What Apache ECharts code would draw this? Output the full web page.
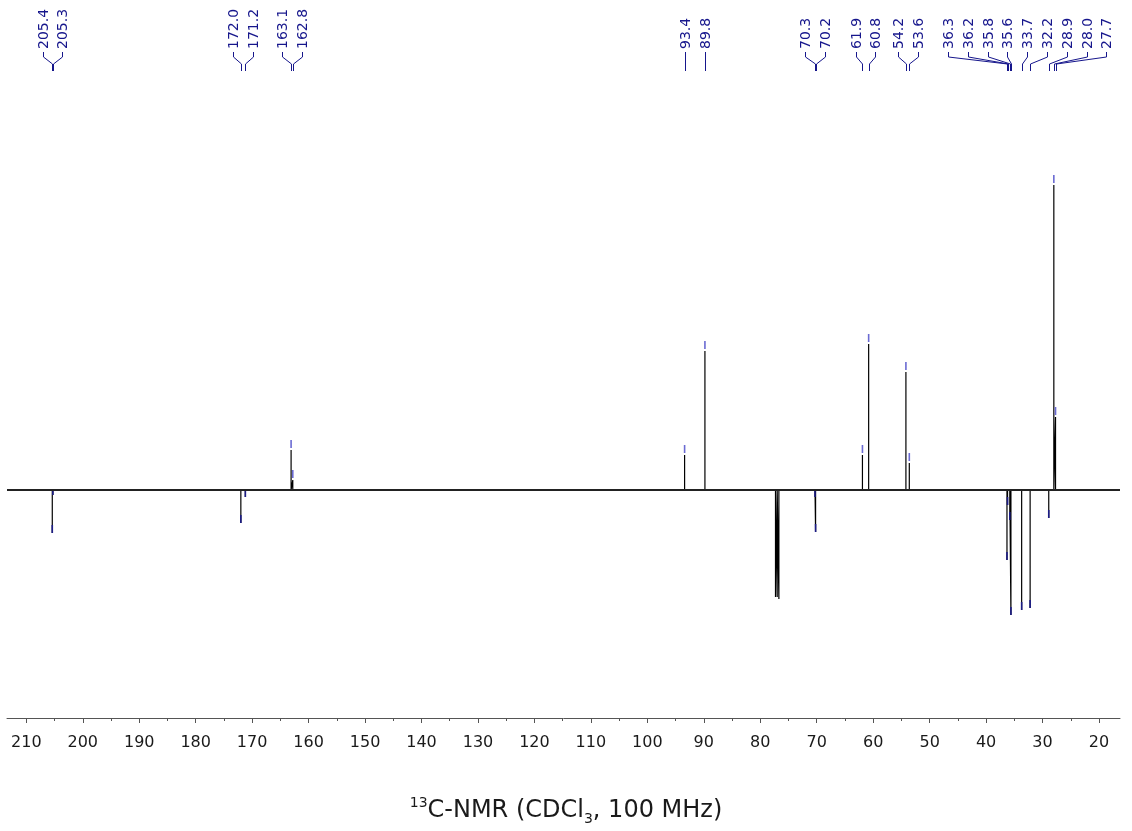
<!DOCTYPE html>
<html><head><meta charset="utf-8">
<script src="https://cdn.jsdelivr.net/npm/echarts@6/dist/echarts.min.js"></script>
<style>html,body{margin:0;padding:0;background:#fff}#c{width:1132px;height:831px}</style>
</head><body><div id="c"></div>
<script>
// ---- data (ppm and relative intensity, baseline = 0) ----
const peakPpm    = [205.4, 205.3, 172.0, 171.2, 163.1, 162.8, 93.4, 89.8, 70.3, 70.2, 61.9, 60.8, 54.2, 53.6, 36.3, 36.2, 35.8, 35.6, 33.7, 32.2, 28.9, 28.0, 27.7];
const peakHeight = [-43,   -5,    -33,   -7,    40,    10,    35,   139,  -7,   -42,  35,   146,  118,  27,   -70,  -15,  -30,  -125, -120, -118, -28,  305,  73];
const solventPpm    = [77.3, 77.0, 76.7];
const solventHeight = [-107, -107, -109];
const majorTicks = [210, 200, 190, 180, 170, 160, 150, 140, 130, 120, 110, 100, 90, 80, 70, 60, 50, 40, 30, 20];
const minorTicks = [205, 195, 185, 175, 165, 155, 145, 135, 125, 115, 105, 95, 85, 75, 65, 55, 45, 35, 25];
const xMin = 16.28, xMax = 213.42;
const yMin = -228, yMax = 390;

const FONT = '"DejaVu Sans", Verdana, sans-serif';
const NAVY = '#16168c';

const sticks = peakPpm.map((p, i) => [p, peakHeight[i]])
  .concat(solventPpm.map((p, i) => [p, solventHeight[i]]))
  .sort((a, b) => b[0] - a[0]);
const spec = [[xMax, 0]];
sticks.forEach(([p, h]) => { spec.push([p, 0], [p, h], [p, 0]); });
spec.push([xMin, 0]);

const chart = echarts.init(document.getElementById('c'), null, {renderer: 'canvas'});
chart.setOption({
  animation: false,
  backgroundColor: '#fff',
  title: {
    text: '{sup|13}C-NMR (CDCl{sub|3}, 100 MHz)',
    left: 'center', top: 796, padding: 0,
    textStyle: {
      fontFamily: FONT, fontSize: 24, fontWeight: 'normal', color: '#1a1a1a', lineHeight: 30,
      rich: {
        sup: {fontFamily: FONT, fontSize: 14, lineHeight: 14, verticalAlign: 'top', color: '#1a1a1a'},
        sub: {fontFamily: FONT, fontSize: 14, lineHeight: 14, verticalAlign: 'bottom', color: '#1a1a1a'}
      }
    }
  },
  grid: {left: 7, right: 12, top: 100, bottom: 113, containLabel: false, outerBoundsMode: 'none'},
  xAxis: [{
    type: 'value', min: xMin, max: xMax, inverse: true, position: 'bottom',
    splitLine: {show: false},
    axisLine: {show: true, onZero: false, lineStyle: {color: '#555', width: 1}},
    axisTick: {show: true, length: 5, customValues: majorTicks, lineStyle: {color: '#555'}},
    axisLabel: {show: true, customValues: majorTicks, margin: 17, fontFamily: FONT, fontSize: 16, color: '#1a1a1a'}
  }, {
    type: 'value', min: xMin, max: xMax, inverse: true, position: 'bottom', offset: 0,
    splitLine: {show: false},
    axisLine: {show: false, onZero: false},
    axisTick: {show: true, length: 3, customValues: minorTicks, lineStyle: {color: '#555'}},
    axisLabel: {show: false}
  }],
  yAxis: {type: 'value', min: yMin, max: yMax, show: false, splitLine: {show: false}},
  series: [{
    type: 'line', data: spec, showSymbol: false, symbol: 'none',
    lineStyle: {color: '#000', width: 1.2},
    markLine: {
      silent: true, symbol: 'none', label: {show: false},
      lineStyle: {color: '#222', width: 1.8, type: 'solid'},
      data: [{yAxis: 0}]
    },
    z: 2
  }, {
    type: 'custom',
    data: peakPpm.map((p, i) => [p, peakHeight[i]]),
    z: 3,
    renderItem(params, api) {
      const h = api.value(1);
      const pt = api.coord([api.value(0), h]);
      const base = api.coord([api.value(0), 0]);
      let y0, y1, color;
      if (h > 0) { y0 = pt[1] - 10; y1 = pt[1] - 2; color = '#6a6ad2'; }
      else { y1 = pt[1]; y0 = Math.max(pt[1] - 8, base[1]); color = '#1c1c86'; }
      return {type: 'rect', shape: {x: pt[0] - 0.8, y: y0, width: 1.6, height: y1 - y0}, style: {fill: color}};
    }
  }]
});

// ---- peak labels with connectors ----
const px = peakPpm.map(p => chart.convertToPixel({xAxisIndex: 0}, p));
const S = 19.8;
const groups = [];
const gStart = g => g.sum / g.idx.length - (g.idx.length - 1) * S / 2;
const gEnd = g => gStart(g) + (g.idx.length - 1) * S;
px.forEach((x, i) => {
  groups.push({idx: [i], sum: x});
  while (groups.length > 1) {
    const g = groups[groups.length - 1], prev = groups[groups.length - 2];
    if (gEnd(prev) + S > gStart(g)) {
      prev.idx = prev.idx.concat(g.idx); prev.sum += g.sum; groups.pop();
    } else break;
  }
});
const lx = new Array(px.length);
groups.forEach(g => { const s = gStart(g); g.idx.forEach((i, k) => { lx[i] = s + k * S; }); });

const elements = [];
peakPpm.forEach((p, i) => {
  const x = Math.round(lx[i]) + 0.5;
  const pxx = Math.round(px[i]) + 0.5;
  elements.push({
    type: 'text', x: x + 0.5, y: 49, rotation: Math.PI / 2, silent: true,
    style: {text: p.toFixed(1), fontFamily: FONT, fontSize: 14, fill: NAVY, align: 'left', verticalAlign: 'middle'}
  });
  elements.push({
    type: 'polyline', silent: true,
    shape: {points: [[x, 52], [x, 57], [pxx, 64], [pxx, 71]]},
    style: {stroke: NAVY, lineWidth: 1, fill: null}
  });
});
chart.setOption({graphic: {elements}});
</script>
</body></html>
